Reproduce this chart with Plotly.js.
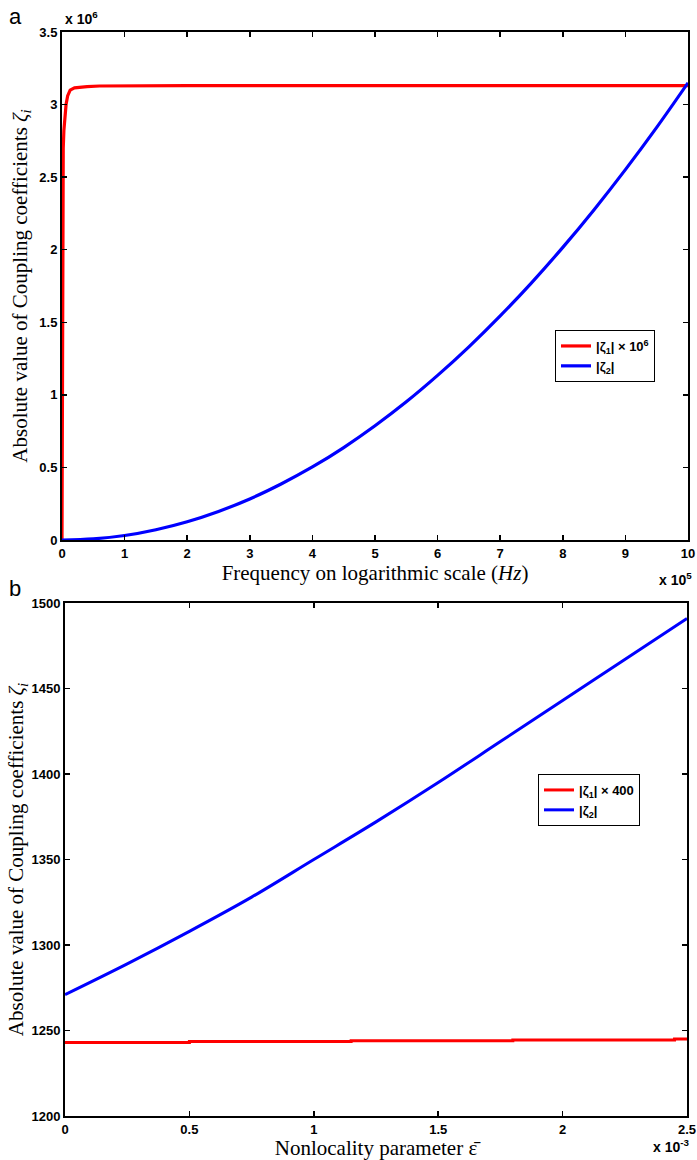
<!DOCTYPE html>
<html><head><meta charset="utf-8">
<script src="https://cdn.plot.ly/plotly-3.0.1.min.js"></script>
<style>html,body{margin:0;padding:0;background:#fff}#plot{width:697px;height:1160px}</style>
</head><body><div id="plot"></div>
<script>
// Panel a: frequency (x 10^5 Hz) vs coupling coefficients (x 10^6)
var freqRed = [0, 0.005, 0.01, 0.02, 0.03, 0.05, 0.065, 0.09, 0.13, 0.2, 0.3, 0.4, 0.6, 1, 2, 4, 6, 8, 10];
var zeta1a  = [0, 1.6, 2.4, 2.7, 2.82, 2.94, 3.0, 3.06, 3.10, 3.115, 3.12, 3.124, 3.128, 3.13, 3.13, 3.13, 3.13, 3.13, 3.13];
var freqBlue = [0, 0.5, 1, 1.5, 2, 2.5, 3, 3.5, 4, 4.5, 5, 5.5, 6, 6.5, 7, 7.5, 8, 8.5, 9, 9.5, 10];
var zeta2a   = [0, 0.008, 0.031, 0.071, 0.126, 0.197, 0.283, 0.386, 0.503, 0.637, 0.787, 0.952, 1.134, 1.331, 1.544, 1.772, 2.016, 2.276, 2.552, 2.843, 3.15];
// Panel b: nonlocality parameter (x 10^-3)
var epsRed = [0, 0.5, 0.5, 1.15, 1.15, 1.8, 1.8, 2.45, 2.45, 2.5];
var zeta1b = [1243, 1243, 1243.5, 1243.5, 1244, 1244, 1244.5, 1244.5, 1245, 1245];
var epsBlue = [0, 0.25, 0.5, 0.75, 1.0, 1.25, 1.5, 1.75, 2.0, 2.25, 2.5];
var zeta2b  = [1271, 1289, 1308, 1328, 1350, 1372, 1395, 1419, 1443, 1467, 1491];
var xTicksA = [0,1,2,3,4,5,6,7,8,9,10];
var yTicksA = [0,0.5,1,1.5,2,2.5,3,3.5];
var xTicksB = [0,0.5,1,1.5,2,2.5];
var yTicksB = [1200,1250,1300,1350,1400,1450,1500];

var L=62, R=688, T=32, B=1116;
function px(p){return (p-L)/(R-L);}
function py(p){return (B-p)/(B-T);}

var tickFont = {family:'Liberation Sans, Arial, sans-serif', size:13, color:'#000', weight:'bold'};
var titleFont = {family:'Liberation Serif, Times New Roman, serif', size:21, color:'#000'};
var legFont = {family:'Liberation Sans, Arial, sans-serif', size:13, color:'#000', weight:'bold'};

function ax(extra){
  var a = {showline:true, linecolor:'#000', linewidth:2, mirror:'ticks', ticks:'inside', ticklen:5, tickwidth:1.5, tickcolor:'#000',
    showgrid:false, zeroline:false, tickfont:tickFont};
  for (var k in extra) a[k]=extra[k];
  return a;
}

var traces = [
  {x:freqRed, y:zeta1a, type:'scatter', mode:'lines', line:{color:'#ff0000', width:3.2}, name:'|ζ<sub>1</sub>| × 10<sup>6</sup>', xaxis:'x', yaxis:'y', legend:'legend'},
  {x:freqBlue, y:zeta2a, type:'scatter', mode:'lines', line:{color:'#0000ff', width:3.2, shape:'spline'}, name:'|ζ<sub>2</sub>|', xaxis:'x', yaxis:'y', legend:'legend'},
  {x:epsRed, y:zeta1b, type:'scatter', mode:'lines', line:{color:'#ff0000', width:3}, name:'|ζ<sub>1</sub>| × 400', xaxis:'x2', yaxis:'y2', legend:'legend2'},
  {x:epsBlue, y:zeta2b, type:'scatter', mode:'lines', line:{color:'#0000ff', width:3, shape:'spline'}, name:'|ζ<sub>2</sub>|', xaxis:'x2', yaxis:'y2', legend:'legend2'}
];

var layout = {
  width:697, height:1160,
  margin:{l:L, r:697-R, t:T, b:1160-B},
  paper_bgcolor:'#fff', plot_bgcolor:'#fff',
  showlegend:true,
  xaxis: ax({domain:[0,1], range:[0,10], tickvals:xTicksA, anchor:'y',
    title:{text:'Frequency on logarithmic scale (<i>Hz</i>)', font:titleFont, standoff:2}}),
  yaxis: ax({domain:[py(540),1], range:[0,3.5], tickvals:yTicksA, anchor:'x',
    title:{text:'Absolute value of Coupling coefficients <i>ζ<sub>i</sub></i>', font:titleFont, standoff:6}}),
  xaxis2: ax({domain:[px(65),px(687)], range:[0,2.5], tickvals:xTicksB, anchor:'y2',
    title:{text:'Nonlocality parameter \u03B5\u0304', font:titleFont, standoff:2}}),
  yaxis2: ax({domain:[0,py(603)], range:[1200,1500], tickvals:yTicksB, anchor:'x2',
    title:{text:'Absolute value of Coupling coefficients <i>ζ<sub>i</sub></i>', font:titleFont, standoff:2}}),
  legend:{x:px(555), y:py(330), xanchor:'left', yanchor:'top', bordercolor:'#000', borderwidth:1, bgcolor:'#fff', font:legFont, tracegroupgap:0},
  legend2:{x:px(538), y:py(774), xanchor:'left', yanchor:'top', bordercolor:'#000', borderwidth:1, bgcolor:'#fff', font:legFont, tracegroupgap:0},
  annotations:[
    {text:'a', xref:'paper', yref:'paper', x:px(7), y:py(2), xanchor:'left', yanchor:'top', showarrow:false, font:{family:'Liberation Sans, Arial', size:22, color:'#000'}},
    {text:'b', xref:'paper', yref:'paper', x:px(7), y:py(574), xanchor:'left', yanchor:'top', showarrow:false, font:{family:'Liberation Sans, Arial', size:22, color:'#000'}},
    {text:'x 10<sup>6</sup>', xref:'paper', yref:'paper', x:px(63), y:py(29), xanchor:'left', yanchor:'bottom', showarrow:false, font:{family:'Liberation Sans, Arial', size:14, color:'#000', weight:'bold'}},
    {text:'x 10<sup>5</sup>', xref:'paper', yref:'paper', x:px(694), y:py(590), xanchor:'right', yanchor:'bottom', showarrow:false, font:{family:'Liberation Sans, Arial', size:14, color:'#000', weight:'bold'}},
    {text:'x 10<sup>-3</sup>', xref:'paper', yref:'paper', x:px(692), y:py(1157), xanchor:'right', yanchor:'bottom', showarrow:false, font:{family:'Liberation Sans, Arial', size:14, color:'#000', weight:'bold'}}
  ]
};
Plotly.newPlot('plot', traces, layout, {displayModeBar:false, staticPlot:true});
</script></body></html>
